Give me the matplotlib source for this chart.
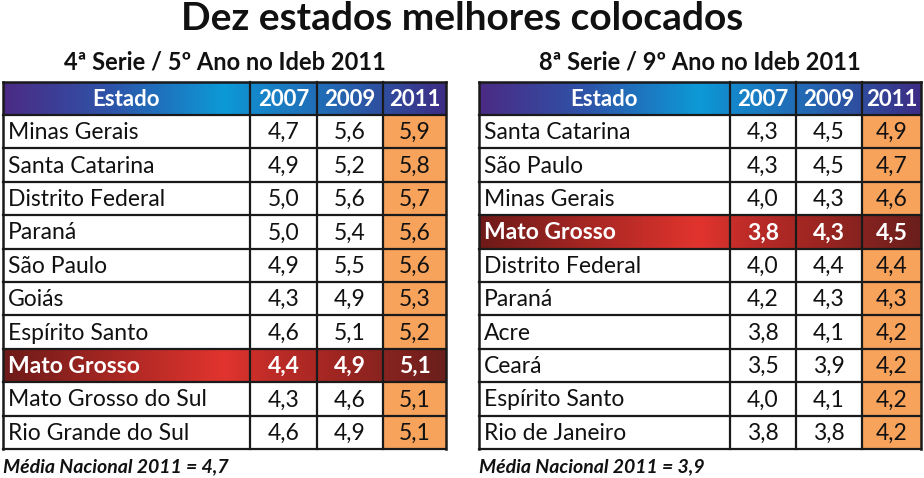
import numpy as np
import matplotlib.pyplot as plt
from matplotlib.colors import LinearSegmentedColormap
from matplotlib.patches import Rectangle

# data
title = 'Dez estados melhores colocados'
header = ['Estado', '2007', '2009', '2011']
highlight = 'Mato Grosso'

sub_left = '4ª Serie / 5º Ano no Ideb 2011'
states_left = ['Minas Gerais', 'Santa Catarina', 'Distrito Federal', 'Paraná', 'São Paulo',
               'Goiás', 'Espírito Santo', 'Mato Grosso', 'Mato Grosso do Sul', 'Rio Grande do Sul']
v2007_left = [4.7, 4.9, 5.0, 5.0, 4.9, 4.3, 4.6, 4.4, 4.3, 4.6]
v2009_left = [5.6, 5.2, 5.6, 5.4, 5.5, 4.9, 5.1, 4.9, 4.6, 4.9]
v2011_left = [5.9, 5.8, 5.7, 5.6, 5.6, 5.3, 5.2, 5.1, 5.1, 5.1]
media_left = 'Média Nacional 2011 = 4,7'

sub_right = '8ª Serie / 9º Ano no Ideb 2011'
states_right = ['Santa Catarina', 'São Paulo', 'Minas Gerais', 'Mato Grosso', 'Distrito Federal',
                'Paraná', 'Acre', 'Ceará', 'Espírito Santo', 'Rio de Janeiro']
v2007_right = [4.3, 4.3, 4.0, 3.8, 4.0, 4.2, 3.8, 3.5, 4.0, 3.8]
v2009_right = [4.5, 4.5, 4.3, 4.3, 4.4, 4.3, 4.1, 3.9, 4.1, 3.8]
v2011_right = [4.9, 4.7, 4.6, 4.5, 4.4, 4.3, 4.2, 4.2, 4.2, 4.2]
media_right = 'Média Nacional 2011 = 3,9'

plt.rcParams['font.family'] = ['Lato', 'DejaVu Sans']

header_cmap = LinearSegmentedColormap.from_list('hdr', [
    (0.0, '#4b2a84'), (0.25, '#2d55aa'), (0.5, '#0c9ad6'), (0.56, '#1489cc'),
    (0.75, '#2467b2'), (1.0, '#3d2d85')])
red_cmap = LinearSegmentedColormap.from_list('red', [
    (0.0, '#6d1a18'), (0.5, '#e2342e'), (0.6, '#c02c28'), (0.75, '#a02622'), (1.0, '#6a1f1c')])
orange = '#f7a35c'
line_c = '#1a1a1a'


def fmt(v):
    return f'{v:.1f}'.replace('.', ',')


def draw_table(ax, x0, widths, states, a, b, c, subtitle, media):
    edges = np.concatenate([[x0], x0 + np.cumsum(widths)])
    y_head = 82
    y0 = 115
    rh = 33.4
    n = len(states)
    y_end = y0 + n * rh
    x1 = edges[-1]

    ax.text((edges[0] + x1) / 2, 62, subtitle, ha='center', va='center',
            fontsize=17, fontweight='bold', color='#111111')

    # header gradient
    grad = np.linspace(0, 1, 256)[None, :]
    ax.imshow(grad, extent=[x0, x1, y0, y_head], cmap=header_cmap, aspect='auto', zorder=1)
    for i, h in enumerate(header):
        ax.text((edges[i] + edges[i + 1]) / 2, (y_head + y0) / 2 + 1, h, ha='center', va='center',
                fontsize=16, fontweight='bold', color='white', zorder=5)

    for r, st in enumerate(states):
        yt = y0 + r * rh
        yc = yt + rh / 2 + 1
        if st == highlight:
            ax.imshow(grad, extent=[x0, x1, yt + rh, yt], cmap=red_cmap, aspect='auto', zorder=1)
            col, fw = 'white', 'bold'
        else:
            ax.add_patch(Rectangle((edges[3], yt), widths[3], rh, facecolor=orange,
                                   edgecolor='none', zorder=1))
            col, fw = '#111111', 'normal'
        ax.text(x0 + 5, yc, st, ha='left', va='center', fontsize=16.5, fontweight=fw,
                color=col, zorder=5)
        for j, v in enumerate([a[r], b[r], c[r]]):
            ax.text((edges[j + 1] + edges[j + 2]) / 2, yc, fmt(v), ha='center', va='center',
                    fontsize=16.5, fontweight=fw, color=col, zorder=5)

    # grid lines
    for r in range(n + 1):
        yy = y0 + r * rh
        ax.plot([x0, x1], [yy, yy], color=line_c, lw=1.6, zorder=4)
    ax.plot([x0, x1], [y_head, y_head], color=line_c, lw=1.8, zorder=4)
    for i, xx in enumerate(edges):
        lw = 1.8 if i in (0, len(edges) - 1) else 1.6
        ax.plot([xx, xx], [y_head, y_end], color=line_c, lw=lw, zorder=4)

    ax.text(x0, y_end + 18, media, ha='left', va='center', fontsize=14,
            fontweight='bold', fontstyle='italic', color='#111111')


fig = plt.figure(figsize=(9.24, 4.78), dpi=100)
ax = fig.add_axes([0, 0, 1, 1])
ax.set_xlim(0, 924)
ax.set_ylim(478, 0)
ax.axis('off')

ax.text(462, 18, title, ha='center', va='center', fontsize=28, fontweight='bold', color='#111111')

draw_table(ax, 3, [247, 67, 66, 63], states_left, v2007_left, v2009_left, v2011_left,
           sub_left, media_left)
draw_table(ax, 479, [251, 66, 66, 59], states_right, v2007_right, v2009_right, v2011_right,
           sub_right, media_right)

fig.savefig('out.png', dpi=100)
